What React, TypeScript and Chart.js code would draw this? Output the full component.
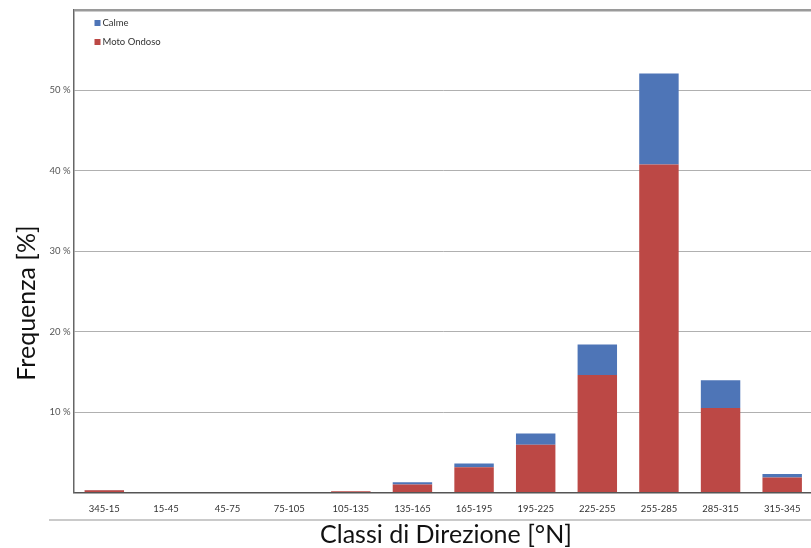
import React, { useEffect, useRef } from "react";
import { Chart, registerables } from "chart.js";

Chart.register(...registerables);

const categories = ["345-15", "15-45", "45-75", "75-105", "105-135", "135-165", "165-195", "195-225", "225-255", "255-285", "285-315", "315-345"];
const motoOndoso = [0.28, 0, 0, 0, 0.15, 1.0, 3.15, 5.95, 14.6, 40.8, 10.5, 1.85];
const calme = [0.04, 0, 0, 0, 0.02, 0.28, 0.45, 1.4, 3.8, 11.3, 3.45, 0.45];
const yTicks = [10, 20, 30, 40, 50];

const RED = "#BC4845";
const BLUE = "#4E75B7";
const FONT = "Lato, 'Open Sans', sans-serif";

const decorPlugin = {
  id: "decor",
  afterDraw(chart: any) {
    const ctx = chart.ctx;
    const area = chart.chartArea;
    ctx.save();
    // legend
    const items = [
      { label: "Calme", color: BLUE },
      { label: "Moto Ondoso", color: RED },
    ];
    ctx.font = `9.5px ${FONT}`;
    ctx.textBaseline = "middle";
    ctx.textAlign = "left";
    items.forEach((it, i) => {
      const y = 23 + i * 19;
      ctx.fillStyle = it.color;
      ctx.fillRect(area.left + 21, y - 3, 6, 6);
      ctx.fillStyle = "#333";
      ctx.fillText(it.label, area.left + 29, y);
    });
    // line under x labels
    ctx.strokeStyle = "#b8b8b8";
    ctx.lineWidth = 1.5;
    ctx.beginPath();
    ctx.moveTo(49, 520);
    ctx.lineTo(chart.width, 520);
    ctx.stroke();
    // titles
    ctx.fillStyle = "#111";
    ctx.font = `25px ${FONT}`;
    ctx.textAlign = "center";
    ctx.textBaseline = "middle";
    ctx.fillText("Classi di Direzione [°N]", 446, 535);
    ctx.translate(27, 303);
    ctx.rotate(-Math.PI / 2);
    ctx.fillText("Frequenza [%]", 0, 0);
    ctx.restore();
  },
};

export default function App() {
  const ref = useRef<HTMLCanvasElement>(null);
  useEffect(() => {
    if (!ref.current) return;
    const chart = new Chart(ref.current, {
      type: "bar",
      data: {
        labels: categories,
        datasets: [
          { label: "Moto Ondoso", data: motoOndoso, backgroundColor: RED, barPercentage: 0.64, categoryPercentage: 1 },
          { label: "Calme", data: calme, backgroundColor: BLUE, barPercentage: 0.64, categoryPercentage: 1 },
        ],
      },
      options: {
        animation: false,
        responsive: false,
        layout: { padding: { top: 10, right: 7, left: 0, bottom: 0 } },
        plugins: { legend: { display: false }, tooltip: { enabled: false } },
        scales: {
          x: {
            stacked: true,
            grid: { display: false },
            border: { display: true, color: "#555", width: 1.5 },
            ticks: { color: "#333", font: { size: 9.5, family: FONT }, padding: 3, maxRotation: 0 },
            afterFit: (s: any) => { s.height = 55.5; },
          },
          y: {
            stacked: true,
            min: 0,
            max: 60,
            afterBuildTicks: (s: any) => {
              s.ticks = [0, ...yTicks, 60].map((v) => ({ value: v }));
            },
            ticks: {
              color: "#555",
              font: { size: 9.5, family: FONT },
              padding: 3,
              callback: (v: any) => (yTicks.includes(Number(v)) ? `${v} %` : ""),
            },
            grid: {
              drawTicks: false,
              color: (c: any) => (c.tick && c.tick.value === 60 ? "#9a9a9a" : "#b0b0b0"),
              lineWidth: (c: any) => (c.tick && c.tick.value === 60 ? 2.5 : 1),
            },
            border: { display: true, color: "#666", width: 1.5 },
            afterFit: (s: any) => { s.width = 73.5; },
          },
        },
      },
      plugins: [decorPlugin],
    });
    return () => chart.destroy();
  }, []);
  return (
    <div style={{ position: "absolute", left: 0, top: 0, width: 820, height: 548, background: "#fff", overflow: "hidden" }}>
      <canvas ref={ref} width={820} height={548} style={{ display: "block" }} />
    </div>
  );
}
